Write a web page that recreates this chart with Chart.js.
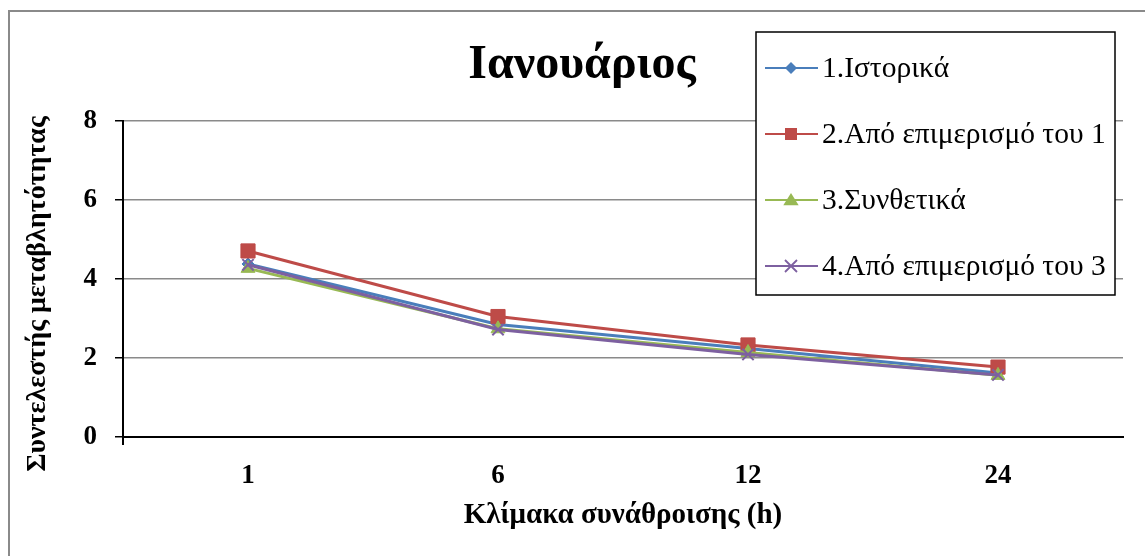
<!DOCTYPE html>
<html>
<head>
<meta charset="utf-8">
<script src="https://cdn.jsdelivr.net/npm/chart.js@4.4.1/dist/chart.umd.min.js"></script>
<style>
  html, body { margin: 0; padding: 0; background: #ffffff; }
  #wrap { width: 1145px; height: 556px; position: relative; }
</style>
</head>
<body>
<div id="wrap"><canvas id="c" width="1145" height="556"></canvas></div>
<script>
// Aggregation scales (hours) and coefficient of variation per data set
const scales = ['1', '6', '12', '24'];
const historical = [4.38, 2.85, 2.24, 1.62];
const fromHistorical = [4.71, 3.05, 2.33, 1.77];
const synthetic = [4.27, 2.74, 2.14, 1.56];
const fromSynthetic = [4.36, 2.72, 2.09, 1.57];
const seriesNames = ['1.Ιστορικά', '2.Από επιμερισμό του 1', '3.Συνθετικά', '4.Από επιμερισμό του 3'];
const yTicks = [0, 2, 4, 6, 8];

const chartTitle = 'Ιανουάριος';
const xTitle = 'Κλίμακα συνάθροισης (h)';
const yTitle = 'Συντελεστής μεταβλητότητας';

const SERIF = '"Liberation Serif", "Times New Roman", serif';

function series(label, data, color, style, radius, order) {
  return {
    label, data,
    borderColor: color, backgroundColor: color,
    borderWidth: 3,
    pointStyle: style, pointRadius: radius, pointHoverRadius: radius,
    pointBorderColor: color, pointBackgroundColor: color, pointBorderWidth: style === 'crossRot' ? 2 : 1,
    tension: 0, fill: false, order
  };
}

// Outer frame of the chart object
const framePlugin = {
  id: 'frame',
  beforeDraw(chart) {
    const ctx = chart.ctx;
    ctx.save();
    ctx.fillStyle = '#ffffff';
    ctx.fillRect(0, 0, chart.width, chart.height);
    ctx.strokeStyle = '#8a8a8a';
    ctx.lineWidth = 2;
    ctx.strokeRect(9, 11, chart.width + 20, chart.height + 20);
    ctx.restore();
  }
};

// Chart title and the vertical axis caption
const textPlugin = {
  id: 'captions',
  afterDraw(chart) {
    const ctx = chart.ctx;
    ctx.save();
    ctx.fillStyle = '#000000';
    ctx.font = 'bold 48px ' + SERIF;
    ctx.textAlign = 'center';
    ctx.textBaseline = 'alphabetic';
    ctx.fillText(chartTitle, 582, 78);

    ctx.translate(38, 294);
    ctx.rotate(-Math.PI / 2);
    ctx.font = 'bold 28px ' + SERIF;
    ctx.textBaseline = 'middle';
    ctx.fillText(yTitle, 0, 0);
    ctx.restore();
  }
};

function drawMarker(ctx, style, x, y, r, color) {
  ctx.save();
  ctx.fillStyle = color;
  ctx.strokeStyle = color;
  ctx.beginPath();
  if (style === 'rectRot') {
    ctx.moveTo(x, y - r); ctx.lineTo(x + r, y); ctx.lineTo(x, y + r); ctx.lineTo(x - r, y);
    ctx.closePath(); ctx.fill();
  } else if (style === 'rect') {
    ctx.rect(x - r, y - r, 2 * r, 2 * r); ctx.fill();
  } else if (style === 'triangle') {
    ctx.moveTo(x, y - r); ctx.lineTo(x + r * 1.1, y + r * 0.75); ctx.lineTo(x - r * 1.1, y + r * 0.75);
    ctx.closePath(); ctx.fill();
  } else {
    ctx.lineWidth = 1.8;
    ctx.moveTo(x - r, y - r); ctx.lineTo(x + r, y + r);
    ctx.moveTo(x + r, y - r); ctx.lineTo(x - r, y + r);
    ctx.stroke();
  }
  ctx.restore();
}

// Boxed legend in the upper right
const legendPlugin = {
  id: 'boxLegend',
  afterDraw(chart) {
    const ctx = chart.ctx;
    const box = { x: 756, y: 32, w: 359, h: 263 };
    const rows = [68, 134, 200, 266];
    const sizes = { rectRot: 6, rect: 6, triangle: 7, crossRot: 6 };
    ctx.save();
    ctx.fillStyle = '#ffffff';
    ctx.fillRect(box.x, box.y, box.w, box.h);
    ctx.strokeStyle = '#000000';
    ctx.lineWidth = 1.5;
    ctx.strokeRect(box.x, box.y, box.w, box.h);
    chart.data.datasets.forEach((ds, i) => {
      const y = rows[i];
      ctx.strokeStyle = ds.borderColor;
      ctx.lineWidth = 2;
      ctx.beginPath();
      ctx.moveTo(765, y); ctx.lineTo(818, y);
      ctx.stroke();
      drawMarker(ctx, ds.pointStyle, 791, y, sizes[ds.pointStyle], ds.borderColor);
      ctx.fillStyle = '#000000';
      ctx.font = '29.5px ' + SERIF;
      ctx.textAlign = 'left';
      ctx.textBaseline = 'middle';
      ctx.fillText(ds.label, 822, y + 1);
    });
    ctx.restore();
  }
};

new Chart(document.getElementById('c'), {
  type: 'line',
  data: {
    labels: scales,
    datasets: [
      series(seriesNames[0], historical, '#4a7ebb', 'rectRot', 6, 4),
      series(seriesNames[1], fromHistorical, '#be4b48', 'rect', 10, 3),
      series(seriesNames[2], synthetic, '#98b954', 'triangle', 8, 2),
      series(seriesNames[3], fromSynthetic, '#7d60a0', 'crossRot', 8, 1)
    ]
  },
  options: {
    responsive: false,
    animation: false,
    devicePixelRatio: 1,
    layout: { padding: { left: 0, top: 121, right: 22, bottom: 0 } },
    plugins: {
      legend: { display: false },
      title: { display: false },
      tooltip: { enabled: false }
    },
    scales: {
      x: {
        type: 'category',
        offset: true,
        afterFit(scale) { scale.height = 119; },
        grid: {
          offset: true,
          drawOnChartArea: false,
          drawTicks: true,
          tickLength: 8,
          color: (c) => (c.index === 0 ? '#000000' : 'rgba(0,0,0,0)'),
          lineWidth: 2
        },
        border: { display: true, color: '#000000', width: 2 },
        ticks: {
          color: '#000000',
          padding: 15,
          font: { family: SERIF, size: 27, weight: 'bold' }
        },
        title: {
          display: true,
          text: xTitle,
          color: '#000000',
          padding: { top: 0, bottom: 23 },
          font: { family: SERIF, size: 29, weight: 'bold' }
        }
      },
      y: {
        min: 0,
        max: 8,
        afterFit(scale) { scale.width = 123; },
        afterBuildTicks(scale) { scale.ticks = yTicks.map(v => ({ value: v })); },
        grid: {
          color: '#8a8a8a',
          lineWidth: 1.5,
          tickColor: '#000000',
          tickLength: 8,
          drawTicks: true
        },
        border: { display: true, color: '#000000', width: 2 },
        ticks: {
          color: '#000000',
          padding: 18,
          font: { family: SERIF, size: 27, weight: 'bold' }
        },
        title: { display: false }
      }
    }
  },
  plugins: [framePlugin, textPlugin, legendPlugin]
});
</script>
</body>
</html>
